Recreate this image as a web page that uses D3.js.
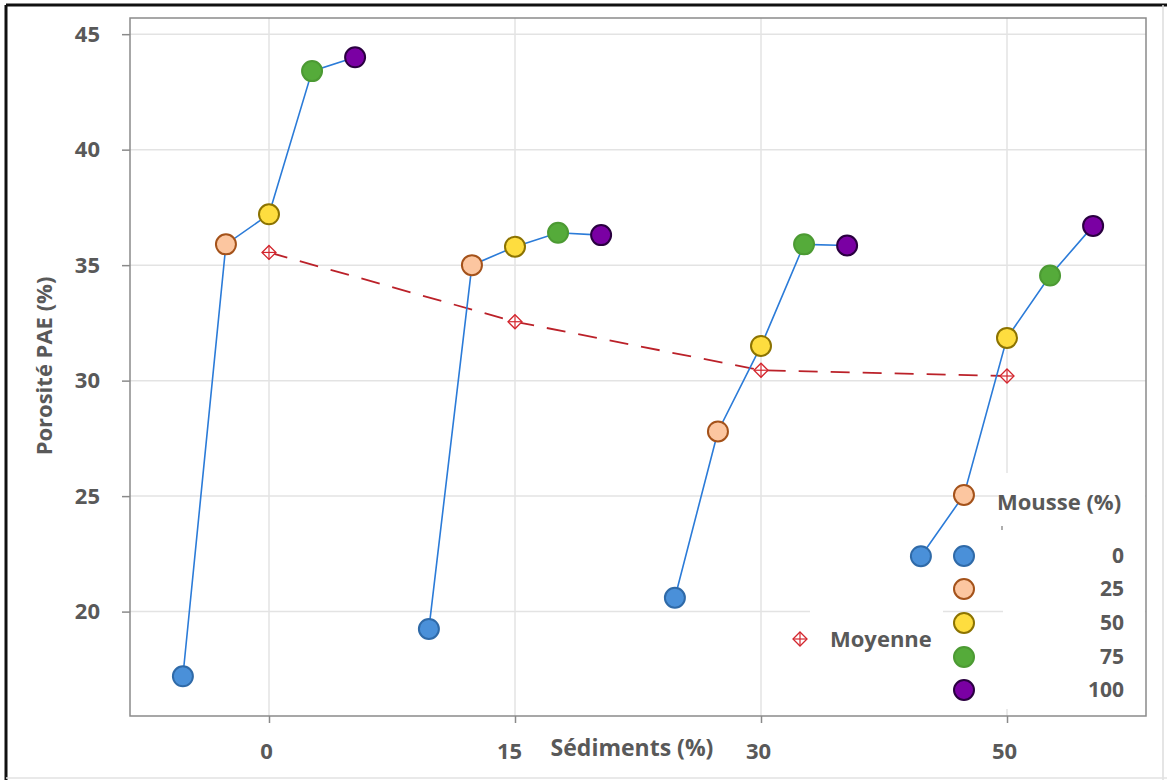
<!DOCTYPE html>
<html><head><meta charset="utf-8">
<script src="https://cdn.jsdelivr.net/npm/d3@7"></script>
<style>
html,body{margin:0;padding:0;background:#fff;}
svg{display:block;font-family:"Open Sans",Lato,sans-serif;}
</style></head>
<body>
<svg id="chart" width="1167" height="780"></svg>
<script>
// ---- data ----
const sediments = ["0", "15", "30", "50"];
const mousseLevels = ["0", "25", "50", "75", "100"];
const porositeS0  = [17.2, 35.9, 37.2, 43.4, 44.0];
const porositeS15 = [19.25, 35.0, 35.8, 36.4, 36.3];
const porositeS30 = [20.6, 27.8, 31.5, 35.9, 35.85];
const porositeS50 = [22.4, 25.05, 31.85, 34.55, 36.7];
const moyenne = [35.55, 32.55, 30.45, 30.2];
const yTicks = [20, 25, 30, 35, 40, 45];
const mousseFill   = ["#4a90d9", "#fcc6a0", "#fedd3f", "#55ab3a", "#7a00a3"];
const mousseStroke = ["#2f6aa8", "#a4521a", "#8c7300", "#4c9a33", "#2a0040"];

const seriesBySed = [porositeS0, porositeS15, porositeS30, porositeS50];

const svg = d3.select("#chart");
const L = 130, R = 1146, T = 18, B = 716;
const grey = "#595959";
const FONT = "'Open Sans', sans-serif";

// outer frame
svg.append("line").attr("x1",6).attr("x2",1167).attr("y1",5).attr("y2",5).attr("stroke","#111").attr("stroke-width",3);
svg.append("line").attr("x1",6).attr("x2",6).attr("y1",5).attr("y2",780).attr("stroke","#111").attr("stroke-width",3);
svg.append("line").attr("x1",1163).attr("x2",1163).attr("y1",5).attr("y2",780).attr("stroke","#ddd").attr("stroke-width",1.5);
svg.append("line").attr("x1",6).attr("x2",1167).attr("y1",778).attr("y2",778).attr("stroke","#e2e2e2").attr("stroke-width",1.5);

const x = d3.scaleLinear().domain([0.435, 4.565]).range([L, R]);
const y = d3.scaleLinear().domain([15.48, 45.7]).range([B, T]);
const gx = s => x(sediments.indexOf(s) + 1);
const off = d3.scalePoint().domain(mousseLevels).range([-0.35, 0.35]);
const px = (s, m) => x(sediments.indexOf(s) + 1 + off(m));

// gridlines
svg.append("g").selectAll("line").data(yTicks).join("line")
  .attr("x1", L).attr("x2", R).attr("y1", d => y(d)).attr("y2", d => y(d))
  .attr("stroke", "#e3e3e3").attr("stroke-width", 1.5);
svg.append("g").selectAll("line").data(sediments).join("line")
  .attr("x1", d => gx(d)).attr("x2", d => gx(d)).attr("y1", T).attr("y2", B)
  .attr("stroke", "#e3e3e3").attr("stroke-width", 1.5);

// legend background boxes (hide gridlines)
svg.append("rect").attr("x", 1003).attr("y", 473).attr("width", 142).attr("height", 236).attr("fill", "#fff");
svg.append("rect").attr("x", 810).attr("y", 606).attr("width", 133).attr("height", 70).attr("fill", "#fff");

// axes
const yAxis = d3.axisLeft(y).tickValues(yTicks).tickSize(8).tickPadding(22).tickFormat(d3.format("d"));
const gy = svg.append("g").attr("transform", `translate(${L},0)`).call(yAxis);
const xAxis = d3.axisBottom(x).tickValues([1,2,3,4]).tickSize(7).tickPadding(20).tickFormat((d,i) => sediments[i]);
const gxA = svg.append("g").attr("transform", `translate(0,${B})`).call(xAxis);
[gy, gxA].forEach(g => {
  g.select(".domain").remove();
  g.selectAll(".tick line").attr("stroke", "#8a8a8a").attr("stroke-width", 1.5);
  g.selectAll(".tick text").attr("fill", grey).attr("font-size", 22).attr("font-weight", 700).attr("font-family", FONT);
});
gxA.selectAll(".tick text").attr("dx", (d, i) => i === 1 ? -6 : -3);
// plot border
svg.append("rect").attr("x", L).attr("y", T).attr("width", R - L).attr("height", B - T)
  .attr("fill", "none").attr("stroke", "#8a8a8a").attr("stroke-width", 1.5);

// axis titles
svg.append("text").attr("transform", `translate(52,${366}) rotate(-90)`).attr("text-anchor", "middle")
  .attr("fill", grey).attr("font-size", 22).attr("font-weight", 700).text("Porosité PAE (%)");
svg.append("text").attr("x", 632).attr("y", 756).attr("text-anchor", "middle")
  .attr("fill", grey).attr("font-size", 23).attr("font-weight", 700).text("Sédiments (%)");

// mean line
const meanLine = d3.line().x((d, i) => gx(sediments[i])).y(d => y(d));
svg.append("path").datum(moyenne).attr("d", meanLine).attr("fill", "none")
  .attr("stroke", "#bb2129").attr("stroke-width", 1.8).attr("stroke-dasharray", "19,13");

// group lines & markers
const line = d3.line().x(d => d.x).y(d => d.y);
seriesBySed.forEach((vals, si) => {
  const s = sediments[si];
  const pts = vals.map((v, mi) => ({ x: px(s, mousseLevels[mi]), y: y(v) }));
  svg.append("path").datum(pts).attr("d", line).attr("fill", "none")
    .attr("stroke", "#2b7bd8").attr("stroke-width", 1.6);
});

function meanMarker(g, cx, cy, r) {
  const c = "#d3262e";
  g.append("path").attr("d", `M${cx},${cy - r}L${cx + r},${cy}L${cx},${cy + r}L${cx - r},${cy}Z`)
    .attr("fill", "#fff").attr("stroke", c).attr("stroke-width", 1.3);
  g.append("line").attr("x1", cx - r).attr("x2", cx + r).attr("y1", cy).attr("y2", cy).attr("stroke", c).attr("stroke-width", 1.2);
  g.append("line").attr("x1", cx).attr("x2", cx).attr("y1", cy - r).attr("y2", cy + r).attr("stroke", c).attr("stroke-width", 1.2);
}
const mg = svg.append("g");
moyenne.forEach((v, i) => meanMarker(mg, gx(sediments[i]), y(v), 7));

seriesBySed.forEach((vals, si) => {
  const s = sediments[si];
  svg.append("g").selectAll("circle").data(vals).join("circle")
    .attr("cx", (d, mi) => px(s, mousseLevels[mi])).attr("cy", d => y(d)).attr("r", 10)
    .attr("fill", (d, mi) => mousseFill[mi]).attr("stroke", (d, mi) => mousseStroke[mi]).attr("stroke-width", 2);
});

// legend
const lg = svg.append("g");
lg.append("text").attr("x", 997).attr("y", 510).attr("fill", grey).attr("font-size", 22).attr("font-weight", 700).text("Mousse (%)");
lg.append("line").attr("x1", 1002).attr("x2", 1002).attr("y1", 526).attr("y2", 530).attr("stroke", "#777").attr("stroke-width", 1.2);
const legY = [556, 589, 623, 657, 690];
mousseLevels.forEach((m, i) => {
  lg.append("circle").attr("cx", 964).attr("cy", legY[i]).attr("r", 10)
    .attr("fill", mousseFill[i]).attr("stroke", mousseStroke[i]).attr("stroke-width", 2);
  lg.append("text").attr("x", 1124).attr("y", legY[i] + 7).attr("text-anchor", "end")
    .attr("fill", grey).attr("font-size", 21).attr("font-weight", 700).text(m);
});
meanMarker(lg, 800, 639, 7);
lg.append("text").attr("x", 830).attr("y", 647).attr("fill", grey).attr("font-size", 22).attr("font-weight", 700).text("Moyenne");
</script>
</body></html>
